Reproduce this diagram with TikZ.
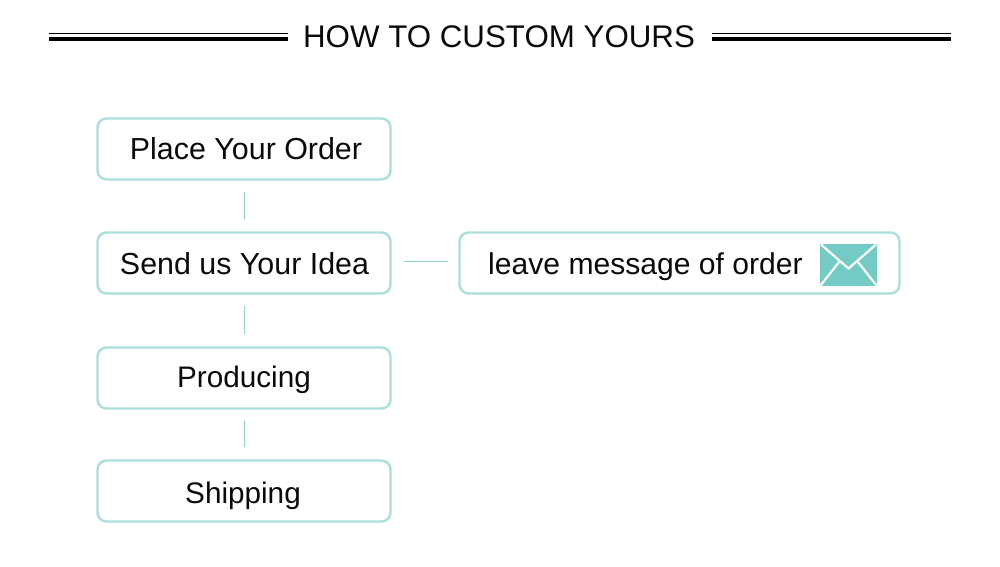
\documentclass[tikz,border=0pt]{standalone}
\usepackage{fontspec}
\setmainfont{Liberation Sans}
\definecolor{boxline}{HTML}{ABDFDA}
\definecolor{conn}{HTML}{8FD3CC}
\definecolor{env}{HTML}{74CBC6}
\definecolor{ink}{HTML}{0A0A0A}
\tikzset{
  flowbox/.style={draw=boxline,line width=2.4pt,rounded corners=9pt,fill=white,minimum width=293pt,minimum height=61pt,inner sep=0pt},
  msgbox/.style={flowbox,minimum width=440pt},
  flowtext/.style={text=ink,font=\fontsize{30.4}{33}\selectfont,inner sep=0pt,anchor=base},
  smalltext/.style={flowtext,font=\fontsize{29.7}{33}\selectfont},
  msgtext/.style={flowtext,font=\fontsize{30.1}{33}\selectfont},
  linkv/.style={draw=conn,line width=1pt,shorten <=11pt,shorten >=12pt},
  linkh/.style={draw=conn,line width=1pt},
  rulethin/.style={draw=black,line width=1.3pt},
  rulethick/.style={draw=black,line width=3.6pt},
  flap/.style={draw=white,line width=2.2pt}
}
\begin{document}
\begin{tikzpicture}[x=1pt,y=-1pt]
\useasboundingbox (0,0) rectangle (1000,566);
\fill[white] (0,0) rectangle (1000,566);
% title
\node[text=ink,font=\fontsize{31.3}{34}\selectfont,inner sep=0pt] (title) at (499,37) {HOW TO CUSTOM YOURS};
\draw[rulethin] (49,33.5) -- (288,33.5);
\draw[rulethick] (49,38.8) -- (288,38.8);
\draw[rulethin] (712,33.5) -- (951,33.5);
\draw[rulethick] (712,38.8) -- (951,38.8);
% boxes
\node[flowbox] (order) at (244,149) {};
\node[flowbox] (idea) at (244,263) {};
\node[flowbox] (prod) at (244,378) {};
\node[flowbox] (ship) at (244,491) {};
\node[msgbox] (msg) at (679.5,263) {};
% labels
\node[flowtext] (t1) at (246,159.5) {Place Your Order};
\node[flowtext] (t2) at (244.5,274) {Send us Your Idea};
\node[smalltext] (t3) at (244,387) {Producing};
\node[smalltext] (t4) at (243,503) {Shipping};
\node[msgtext] (t5) at (645.5,274.5) {leave message of order};
% connectors
\draw[linkv] (order.south) -- (idea.north);
\draw[linkv] (idea.south) -- (prod.north);
\draw[linkv] (prod.south) -- (ship.north);
\coordinate (hs) at (404,261);
\coordinate (he) at (448,261);
\draw[linkh] (hs) -- (he);
% envelope
\fill[env] (820,244) rectangle (877,286);
\draw[flap] (821,244.5) -- (848.5,268.5) -- (876,244.5);
\draw[flap] (820.5,285.5) -- (839,262);
\draw[flap] (876.5,285.5) -- (858,262);
\end{tikzpicture}
\end{document}
